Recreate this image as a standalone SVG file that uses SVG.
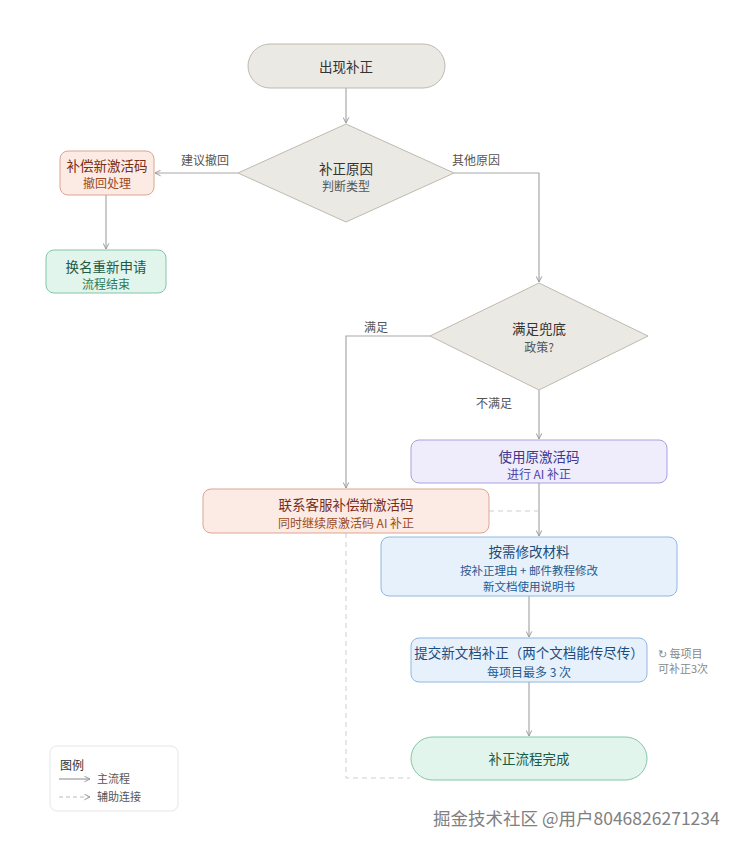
<svg xmlns="http://www.w3.org/2000/svg" width="746" height="850" viewBox="0 0 746 850">
<defs>
<marker id="arr" viewBox="0 0 10 10" refX="9" refY="5" markerWidth="7" markerHeight="7" orient="auto-start-reverse" markerUnits="userSpaceOnUse">
<path d="M1,1 L9,5 L1,9" fill="none" stroke="#9a9a9a" stroke-width="1.4"/>
</marker>
<style>
text{font-family:"Noto Sans CJK SC","Liberation Sans",sans-serif;text-anchor:middle}
.t{font-size:13.5px}
.s{font-size:12px}
.lbl{font-size:12px;fill:#555}
.ln{fill:none;stroke:#a8a8a8;stroke-width:1.2}
.dash{fill:none;stroke:#cfcfcf;stroke-width:1;stroke-dasharray:5 4}
.gray{fill:#ebe9e3;stroke:#bdbab0;stroke-width:1}
.peach{fill:#fcebe4;stroke:#dba591;stroke-width:1}
.green{fill:#e1f5ec;stroke:#82c6a7;stroke-width:1}
.lav{fill:#efecfb;stroke:#aaa0e0;stroke-width:1}
.blue{fill:#e7f1fb;stroke:#90b6de;stroke-width:1}
</style>
</defs>
<rect width="746" height="850" fill="#ffffff"/>

<g id="connectors">
<path class="ln" d="M346,88 V123" marker-end="url(#arr)"/>
<path class="ln" d="M238,173 H155" marker-end="url(#arr)"/>
<path class="ln" d="M106,195 V249" marker-end="url(#arr)"/>
<path class="ln" d="M454,173 H539 V282" marker-end="url(#arr)"/>
<path class="ln" d="M430,336 H346 V488" marker-end="url(#arr)"/>
<path class="ln" d="M539,390 V439" marker-end="url(#arr)"/>
<path class="ln" d="M539,483 V536" marker-end="url(#arr)"/>
<path class="ln" d="M529,596 V637" marker-end="url(#arr)"/>
<path class="ln" d="M529,682 V736" marker-end="url(#arr)"/>
<path class="dash" d="M489,511 H539"/>
<path class="dash" d="M346,533 V778 H410"/>
<text class="lbl" x="205" y="165">建议撤回</text>
<text class="lbl" x="476" y="165">其他原因</text>
<text class="lbl" x="376" y="332">满足</text>
<text class="lbl" x="494" y="408">不满足</text>
</g>

<g id="start">
<rect class="gray" x="248" y="44" width="197" height="44" rx="22"/>
<text class="t" x="346" y="71.5" fill="#333">出现补正</text>
</g>

<g id="reason">
<polygon class="gray" points="346,124 454,173 346,222 238,173"/>
<text class="t" x="346" y="173.5" fill="#333">补正原因</text>
<text class="s" x="346" y="191" fill="#555">判断类型</text>
</g>

<g id="compensate">
<rect class="peach" x="60" y="151" width="94" height="44" rx="8"/>
<text class="t" x="107" y="170.5" fill="#7a2e18">补偿新激活码</text>
<text class="s" x="107" y="188" fill="#9c4a22">撤回处理</text>
</g>

<g id="rename">
<rect class="green" x="46" y="250" width="120" height="43" rx="8"/>
<text class="t" x="106" y="271.5" fill="#1d5a43">换名重新申请</text>
<text class="s" x="106" y="289" fill="#2d7a58">流程结束</text>
</g>

<g id="policy">
<polygon class="gray" points="539,283 648,336 539,390 430,336"/>
<text class="t" x="539" y="334" fill="#333">满足兜底</text>
<text class="s" x="539" y="351.5" fill="#555">政策?</text>
</g>

<g id="original">
<rect class="lav" x="411" y="440" width="256" height="43" rx="8"/>
<text class="t" x="539" y="461.5" fill="#40378f">使用原激活码</text>
<text class="s" x="539" y="479" fill="#4f45a8">进行 AI 补正</text>
</g>

<g id="service">
<rect class="peach" x="203" y="489" width="286" height="44" rx="8"/>
<text class="t" x="346" y="510" fill="#7a2e18">联系客服补偿新激活码</text>
<text class="s" x="346" y="527.5" fill="#9c4a22">同时继续原激活码 AI 补正</text>
</g>

<g id="modify">
<rect class="blue" x="381" y="537" width="296" height="59" rx="8"/>
<text class="t" x="529" y="557" fill="#1c4c7c">按需修改材料</text>
<text x="529" y="574.5" style="font-size:11.5px" fill="#1f5a92">按补正理由 + 邮件教程修改</text>
<text x="529" y="590.5" style="font-size:11.5px" fill="#1f5a92">新文档使用说明书</text>
</g>

<g id="submit">
<rect class="blue" x="411" y="638" width="236" height="44" rx="8"/>
<text class="t" x="529" y="658" fill="#1c4c7c">提交新文档补正（两个文档能传尽传）</text>
<text class="s" x="529" y="676.5" fill="#1f5a92">每项目最多 3 次</text>
<text x="658" y="658" fill="#888" style="text-anchor:start;font-size:11px">↻ 每项目</text>
<text x="658" y="673" fill="#888" style="text-anchor:start;font-size:11px">可补正3次</text>
</g>

<g id="done">
<rect class="green" x="411" y="737" width="236" height="43" rx="21.5"/>
<text class="t" x="529" y="764" fill="#1d5a43">补正流程完成</text>
</g>

<g id="legend">
<rect x="50" y="746" width="128" height="65" rx="7" fill="#fff" stroke="#e6e6e6"/>
<text x="60" y="770" style="text-anchor:start;font-size:12px" fill="#333">图例</text>
<path d="M59,779 H90" fill="none" stroke="#888" stroke-width="1" marker-end="url(#arr)"/>
<text x="97" y="783" style="text-anchor:start;font-size:11px" fill="#555">主流程</text>
<path d="M59,797 H90" fill="none" stroke="#bbb" stroke-width="1" stroke-dasharray="4 3" marker-end="url(#arr)"/>
<text x="97" y="801" style="text-anchor:start;font-size:11px" fill="#555">辅助连接</text>
</g>

<g id="watermark">
<text x="433" y="825" style="text-anchor:start;font-size:17.5px" fill="#808080" stroke="#fff" stroke-width="0.6" paint-order="stroke">掘金技术社区 @用户8046826271234</text>
</g>
</svg>
